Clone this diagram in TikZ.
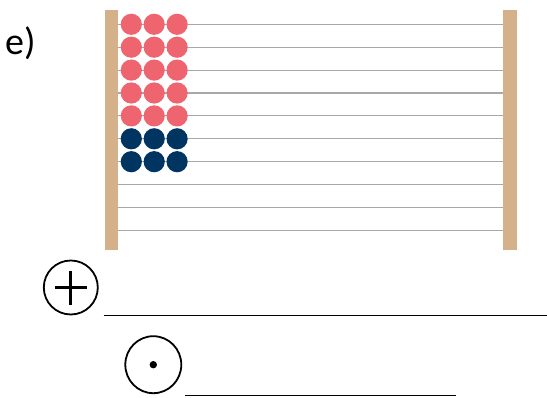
\documentclass[tikz,border=0pt]{standalone}
\usepackage{fontspec}
\setmainfont{Carlito}
\usetikzlibrary{shapes.geometric}
\definecolor{wood}{HTML}{D4B18B}
\definecolor{beadred}{HTML}{EE6570}
\definecolor{beadblue}{HTML}{003562}
\definecolor{wire}{HTML}{A8A8A8}
\begin{document}
\begin{tikzpicture}[x=1pt,y=-1pt]
	\useasboundingbox (0,0) rectangle (547,398);
	\node[anchor=base west, inner sep=0pt, font=\fontsize{38}{40}\selectfont] (label) at (5,54.5){e)};
	
	% wires and frame
	\foreach \i in {0,...,9}
		\draw[wire, line width=1.1pt] (118,24.3+22.9*\i) -- (503,24.3+22.9*\i);
	\fill[wood] (105,10) rectangle (118,250);
	\fill[wood] (503,10) rectangle (516.5,250);
	
	% beads
	\foreach \i in {0,...,4}
		\foreach \j in {0,1,2}
			\fill[beadred] (131.3+22.9*\j,24.3+22.9*\i) circle(10.6);
	\foreach \i in {5,6}
		\foreach \j in {0,1,2}
			\fill[beadblue] (131.3+22.9*\j,24.3+22.9*\i) circle(10.6);
	
	\node[draw, ellipse, minimum width=54pt, minimum height=54pt, inner sep=0pt, line width=1.8pt] (plus) at (70.8,287.5){};
	\draw[line width=2.8pt] (55,287.5) -- (86.6,287.5);
	\draw[line width=2.8pt] (70.8,271.5) -- (70.8,305);
	\draw[line width=1.6pt] (103.5,315.5) -- (547,315.5);
	
	\node[draw, ellipse, minimum width=56pt, minimum height=57pt, inner sep=0pt, line width=1.8pt] (dot) at (153.3,364.7){};
	\fill (dot.center) circle(3.7);
	\draw[line width=1.6pt] (185,395.5) -- (455.5,395.5);
\end{tikzpicture}
\end{document}
